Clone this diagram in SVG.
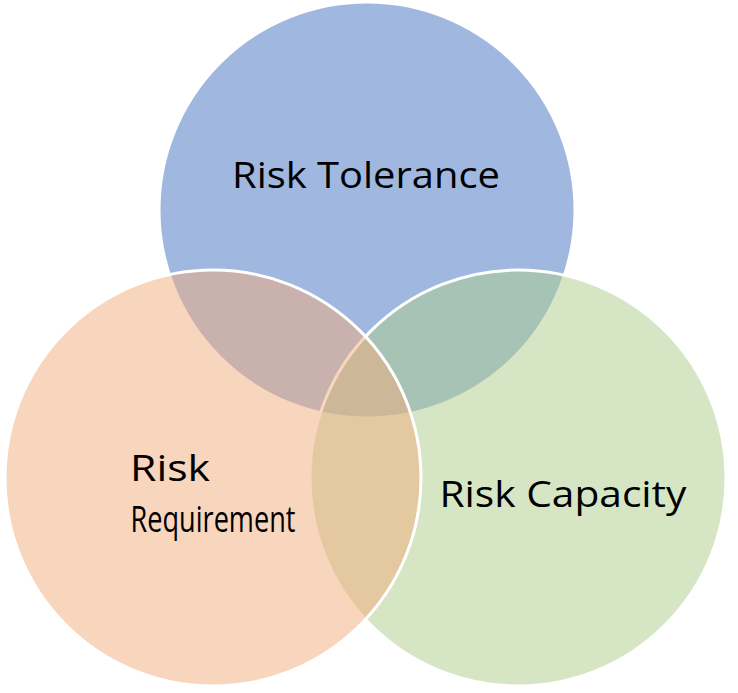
<svg xmlns="http://www.w3.org/2000/svg" width="738" height="693" viewBox="0 0 738 693">
<style>
.c{stroke:#fff;stroke-width:3}
.t{font-family:"Open Sans","Liberation Sans",Arial,sans-serif;font-size:36px;fill:#000;text-anchor:middle;lengthAdjust:spacingAndGlyphs}
</style>
<rect width="738" height="693" fill="#fff"/>
<g id="tolerance"><circle class="c" cx="367" cy="210" r="208" fill="#A0B8E0"/></g>
<g id="capacity"><circle class="c" cx="518" cy="478" r="208" fill="#ADCD8B" fill-opacity="0.5"/></g>
<g id="requirement"><circle class="c" cx="213" cy="478" r="208" fill="#F1AB7B" fill-opacity="0.5"/></g>
<g id="labels">
<text class="t" x="366" y="188" textLength="268" lengthAdjust="spacingAndGlyphs">Risk Tolerance</text>
<text class="t" x="170" y="481" textLength="80" lengthAdjust="spacingAndGlyphs">Risk</text>
<text class="t" x="213" y="532" textLength="165" lengthAdjust="spacingAndGlyphs">Requirement</text>
<text class="t" x="563" y="507" textLength="247" lengthAdjust="spacingAndGlyphs">Risk Capacity</text>
</g>
<g id="connectors"/>
</svg>
